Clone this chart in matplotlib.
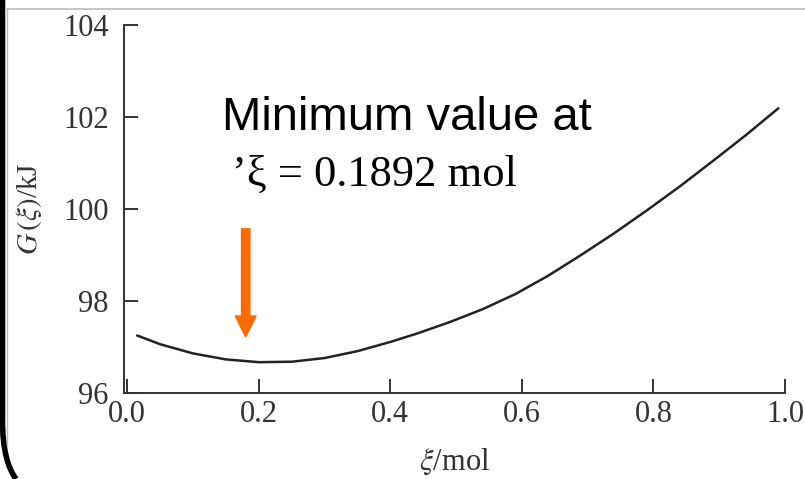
import matplotlib
matplotlib.use("Agg")
import matplotlib.pyplot as plt
from matplotlib.lines import Line2D
from matplotlib.patches import PathPatch
from matplotlib.path import Path

plt.rcParams["mathtext.fontset"] = "stix"

# Data
xi = [0.015, 0.05, 0.10, 0.15, 0.20, 0.25, 0.30, 0.35, 0.40, 0.44, 0.49,
      0.54, 0.59, 0.64, 0.69, 0.74, 0.79, 0.84, 0.89, 0.94, 0.99]
G = [97.25, 97.06, 96.86, 96.73, 96.67, 96.68, 96.76, 96.91, 97.11, 97.29, 97.54,
     97.82, 98.15, 98.55, 99.00, 99.47, 99.97, 100.49, 101.04, 101.60, 102.19]
xticks = [0.0, 0.2, 0.4, 0.6, 0.8, 1.0]
xtick_labels = ["0.0", "0.2", "0.4", "0.6", "0.8", "1.0"]
yticks = [96, 98, 100, 102, 104]
ytick_labels = ["96", "98", "100", "102", "104"]
arrow_x = 0.18
arrow_from = 99.57
arrow_to = 97.22

W, H = 805, 479
fig = plt.figure(figsize=(W / 100, H / 100), dpi=100)
fig.patch.set_facecolor("white")

ax = fig.add_axes([124 / W, 1 - 393 / H, (785 - 124) / W, (393 - 25) / H])
ax.plot(xi, G, color="#222222", lw=1.8, solid_capstyle="round", solid_joinstyle="round")
ax.set_xlim(-0.005, 1.0)
ax.set_ylim(96, 104)
for s in ["top", "right"]:
    ax.spines[s].set_visible(False)
for s in ["left", "bottom"]:
    ax.spines[s].set_color("#333333")
    ax.spines[s].set_linewidth(1.4)
ax.set_xticks(xticks)
ax.set_xticklabels(xtick_labels)
ax.set_yticks(yticks)
ax.set_yticklabels(ytick_labels)
ax.tick_params(axis="both", direction="in", length=10, width=1.4, color="#333333",
               labelsize=22, labelcolor="#333333")
for lab in ax.get_xticklabels() + ax.get_yticklabels():
    lab.set_family("Liberation Serif")
ax.tick_params(axis="x", pad=5)
ax.tick_params(axis="y", pad=11)
ax.patch.set_alpha(0)

ax.set_xlabel(r"$\xi$/mol", fontsize=22, family="Liberation Serif", color="#333333", labelpad=13)
ax.set_ylabel(r"$G\,(\xi)$/kJ", fontsize=21, family="Liberation Serif", color="#333333", labelpad=14)

ax.annotate("", xy=(arrow_x, arrow_to), xytext=(arrow_x, arrow_from),
            arrowprops=dict(width=6, headwidth=15, headlength=15,
                            color="#FF6A00", shrink=0))

fig.text(222 / W, 1 - 118 / H, "Minimum value at", fontsize=34,
         family="Liberation Sans", color="black", va="center", ha="left")
fig.text(232 / W, 1 - 175 / H, "\u2019\u03be = 0.1892 mol", fontsize=32,
         family="Liberation Serif", color="black", va="center", ha="left")

# slide frame
fig.add_artist(Line2D([7 / W, 1], [1 - 9 / H, 1 - 9 / H], color="#bbbbbb", lw=1.2,
                      transform=fig.transFigure))
fig.add_artist(Line2D([7 / W, 7 / W], [1 - 9 / H, 1 - 445 / H], color="#bbbbbb", lw=1.0,
                      transform=fig.transFigure))
verts = [(2.5, 0), (2.5, 420), (2.5, 450), (8, 468), (16, 479)]
codes = [Path.MOVETO, Path.LINETO, Path.CURVE4, Path.CURVE4, Path.CURVE4]
verts_f = [(x / W, 1 - y / H) for x, y in verts]
fig.add_artist(PathPatch(Path(verts_f, codes), facecolor="none", edgecolor="black",
                         lw=4, transform=fig.transFigure))

fig.savefig("out.png", dpi=100, facecolor="white")
